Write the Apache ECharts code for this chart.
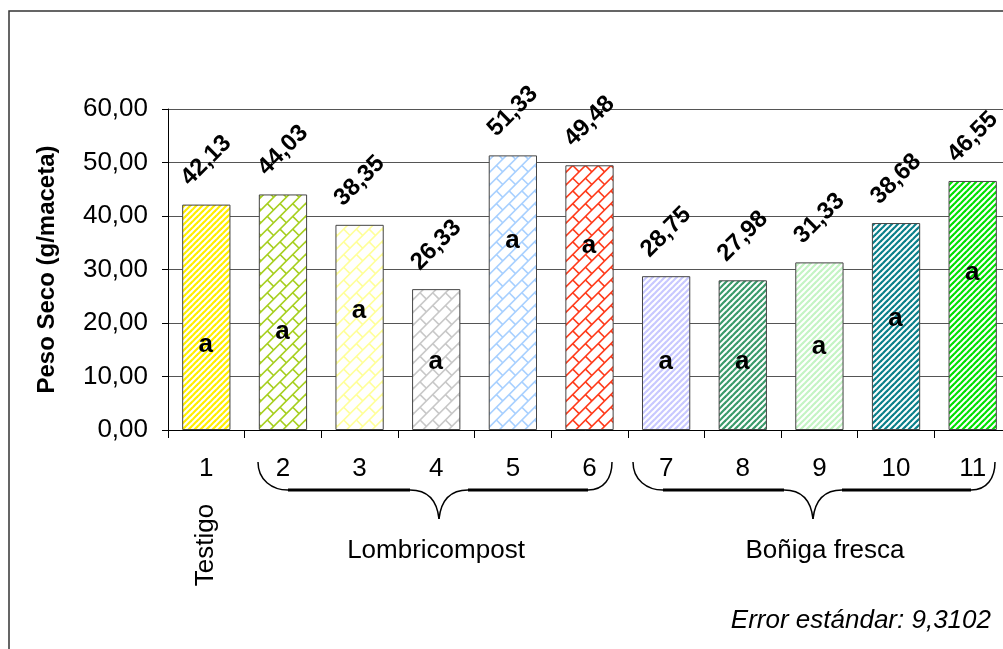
<!DOCTYPE html>
<html>
<head>
<meta charset="utf-8">
<script src="https://cdn.jsdelivr.net/npm/echarts@6/dist/echarts.min.js"></script>
<style>
  html, body { margin: 0; padding: 0; background: #fff; }
  #chart { width: 1003px; height: 649px; }
</style>
</head>
<body>
<div id="chart"></div>
<script>
// datos
const tratamientos = ['1', '2', '3', '4', '5', '6', '7', '8', '9', '10', '11']
const pesoSeco = [42.13, 44.03, 38.35, 26.33, 51.33, 49.48, 28.75, 27.98, 31.33, 38.68, 46.55]
const letras = ['a', 'a', 'a', 'a', 'a', 'a', 'a', 'a', 'a', 'a', 'a']
// altura (en g/maceta) a la que va la letra dentro de cada barra
const letraY = [15.9, 18.3, 22.1, 12.7, 35.3, 34.4, 12.7, 12.7, 15.5, 20.6, 29.3]
const yTicks = [0, 10, 20, 30, 40, 50, 60]

const FONT = '"Liberation Sans", Arial, sans-serif'
const fmt = v => v.toFixed(2).replace('.', ',')

// tramas tipo excel
function rayas(color) {
    const c = document.createElement('canvas')
    c.width = 6; c.height = 6
    const ctx = c.getContext('2d')
    ctx.fillStyle = '#fff'
    ctx.fillRect(0, 0, 6, 6)
    ctx.strokeStyle = color
    ctx.lineWidth = 2.2
    for (let k = -1; k <= 1; k++) {
        ctx.beginPath()
        ctx.moveTo(k * 6 - 1, 7)
        ctx.lineTo(k * 6 + 7, -1)
        ctx.stroke()
    }
    return { image: c, repeat: 'repeat' }
}

function ladrillos(color) {
    const c = document.createElement('canvas')
    c.width = 1010; c.height = 660
    const ctx = c.getContext('2d')
    ctx.fillStyle = '#fff'
    ctx.fillRect(0, 0, c.width, c.height)
    ctx.strokeStyle = color
    ctx.lineWidth = 1.6
    ctx.rotate(-Math.PI / 4)
    const w = 18, h = 9
    for (let k = -160; k <= 160; k++) {
        const v = k * h
        ctx.beginPath()
        ctx.moveTo(-1500, v)
        ctx.lineTo(1500, v)
        ctx.stroke()
        const off = (k % 2 === 0) ? 0 : w / 2
        for (let j = -90; j <= 90; j++) {
            const u = j * w + off
            ctx.beginPath()
            ctx.moveTo(u, v)
            ctx.lineTo(u, v + h)
            ctx.stroke()
        }
    }
    return { image: c, repeat: 'repeat' }
}

const tramas = [
    rayas('#ffee00'),
    ladrillos('#a6cf1e'),
    ladrillos('#ffff99'),
    ladrillos('#c8c8c8'),
    ladrillos('#a8d0ff'),
    ladrillos('#ff3a1a'),
    rayas('#c8c8ff'),
    rayas('#3a9a6a'),
    rayas('#c4f4c4'),
    rayas('#0a7f8a'),
    rayas('#00e000')
]

const chart = echarts.init(document.getElementById('chart'))

function llave(x0, xm, x1) {
    const y0 = 462, yl = 490, yp = 519
    const st = { stroke: '#000', lineWidth: 1.5, fill: null }
    const lin = { stroke: '#000', lineWidth: 3 }
    return [
        { type: 'bezierCurve', shape: { x1: x0, y1: y0, cpx1: x0, cpy1: y0 + 18, cpx2: x0 + 14, cpy2: yl, x2: x0 + 30, y2: yl }, style: st },
        { type: 'line', shape: { x1: x0 + 30, y1: yl, x2: xm - 29, y2: yl }, style: lin },
        { type: 'bezierCurve', shape: { x1: xm - 29, y1: yl, cpx1: xm - 12, cpy1: yl, cpx2: xm - 2, cpy2: yl + 10, x2: xm, y2: yp }, style: st },
        { type: 'bezierCurve', shape: { x1: xm, y1: yp, cpx1: xm + 2, cpy1: yl + 10, cpx2: xm + 12, cpy2: yl, x2: xm + 29, y2: yl }, style: st },
        { type: 'line', shape: { x1: xm + 29, y1: yl, x2: x1 - 24, y2: yl }, style: lin },
        { type: 'bezierCurve', shape: { x1: x1 - 24, y1: yl, cpx1: x1 - 8, cpy1: yl, cpx2: x1, cpy2: yl - 12, x2: x1, y2: y0 }, style: st }
    ]
}

const option = {
    animation: false,
    grid: { left: 168, top: 109, width: 843, height: 321, containLabel: false, outerBoundsMode: 'none' },
    xAxis: {
        type: 'category',
        data: tratamientos,
        axisLine: { lineStyle: { color: '#000', width: 1 } },
        axisTick: { show: true, interval: 0, length: 8, lineStyle: { color: '#000' } },
        axisLabel: { interval: 0, margin: 26, color: '#000', fontSize: 26, fontFamily: FONT }
    },
    yAxis: {
        type: 'value',
        min: yTicks[0],
        max: yTicks[yTicks.length - 1],
        interval: 10,
        name: 'Peso Seco (g/maceta)',
        nameLocation: 'middle',
        nameRotate: 90,
        nameGap: 109,
        nameTextStyle: { color: '#000', fontSize: 24, fontWeight: 'bold', fontFamily: FONT },
        axisLine: { show: true, lineStyle: { color: '#000', width: 1 } },
        axisTick: { show: true, length: 6, lineStyle: { color: '#000' } },
        axisLabel: { margin: 20, color: '#000', fontSize: 26, fontFamily: FONT, formatter: v => fmt(v) },
        splitLine: { show: true, lineStyle: { color: '#555', width: 1 } }
    },
    series: [
        {
            type: 'bar',
            barCategoryGap: '37%',
            data: pesoSeco.map((v, i) => ({ value: v, itemStyle: { color: tramas[i] } })),
            itemStyle: { borderColor: '#444', borderWidth: 1 },
            label: {
                show: true,
                position: 'top',
                distance: 44,
                rotate: 45,
                align: 'center',
                verticalAlign: 'middle',
                color: '#000',
                fontSize: 24,
                fontWeight: 'bold',
                fontFamily: FONT,
                formatter: p => fmt(p.value)
            }
        },
        {
            type: 'scatter',
            data: letraY.map((v, i) => [i, v]),
            symbolSize: 1,
            itemStyle: { color: '#000', opacity: 0 },
            label: {
                show: true,
                position: [0, 0],
                align: 'center',
                verticalAlign: 'middle',
                color: '#000',
                opacity: 1,
                textBorderWidth: 0,
                fontSize: 26,
                fontWeight: 'bold',
                fontFamily: FONT,
                formatter: p => letras[p.dataIndex]
            },
            z: 5
        }
    ],
    graphic: [
        { type: 'rect', shape: { x: 9, y: 11, width: 1200, height: 1000 }, style: { fill: null, stroke: '#333', lineWidth: 1.5 }, silent: true },
        { type: 'text', x: 206, y: 545, rotation: Math.PI / 2, style: { text: 'Testigo', font: '26px ' + FONT, fill: '#000', textAlign: 'center', textVerticalAlign: 'middle' } },
        { type: 'text', x: 436, y: 551, style: { text: 'Lombricompost', font: '26px ' + FONT, fill: '#000', textAlign: 'center', textVerticalAlign: 'middle' } },
        { type: 'text', x: 825, y: 551, style: { text: 'Boñiga fresca', font: '26px ' + FONT, fill: '#000', textAlign: 'center', textVerticalAlign: 'middle' } },
        { type: 'text', x: 991, y: 621, style: { text: 'Error estándar: 9,3102', font: 'italic 26px ' + FONT, fill: '#000', textAlign: 'right', textVerticalAlign: 'middle' } }
    ].concat(llave(258, 439, 612), llave(633, 813, 995))
}
chart.setOption(option)
</script>
</body>
</html>
